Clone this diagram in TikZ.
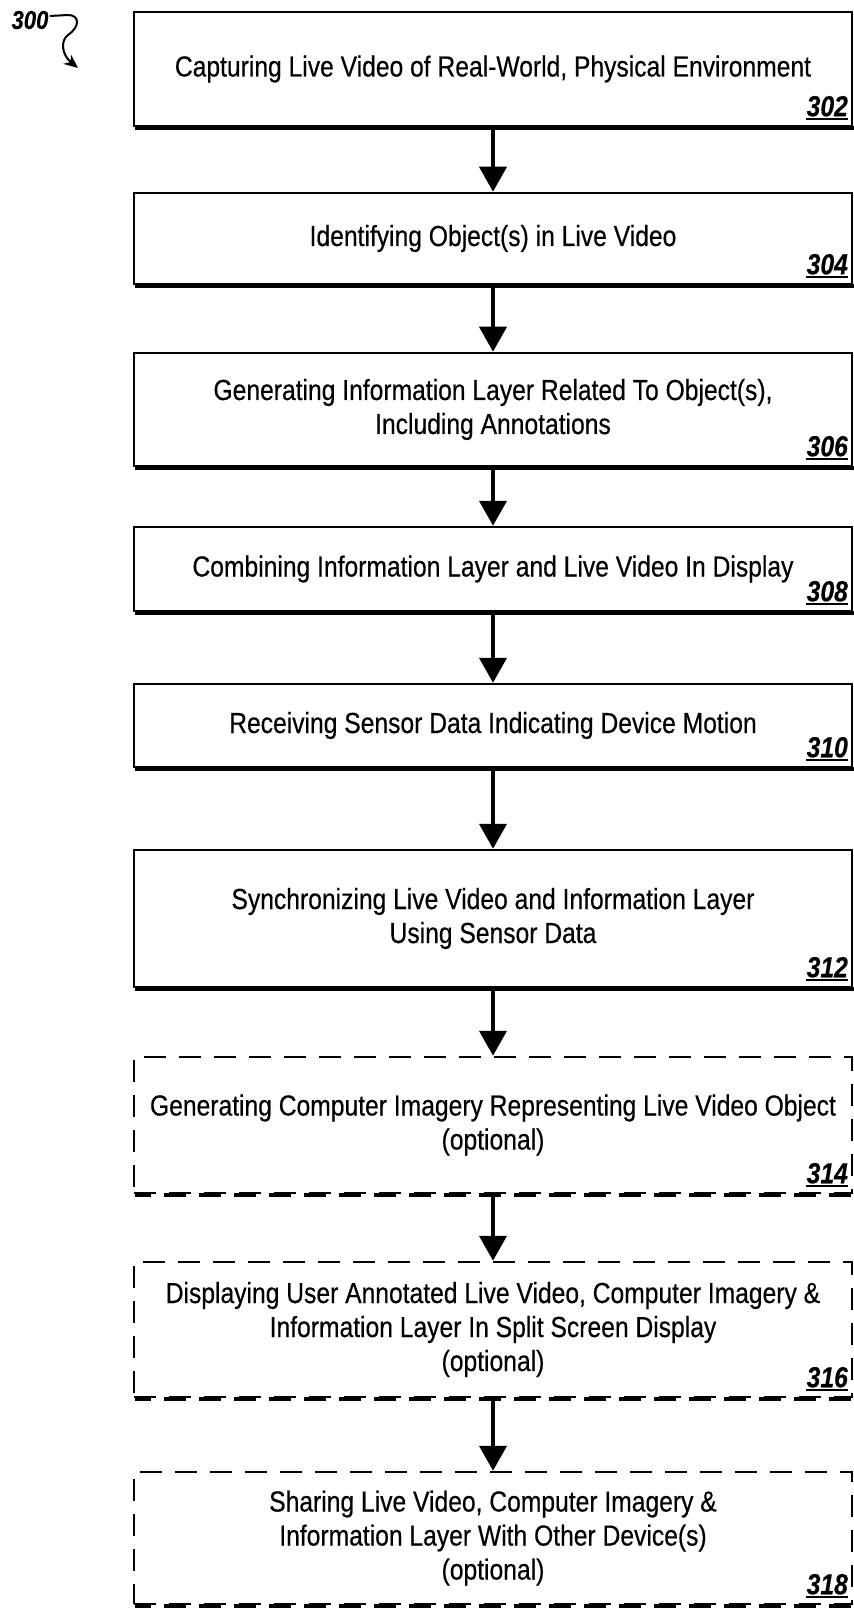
\documentclass[tikz,border=0pt]{standalone}
\usepackage{fontspec}
\setmainfont[FakeStretch=0.85,FakeBold=0.4]{Liberation Sans}
\usetikzlibrary{arrows.meta}
\newlength{\du}
\setlength{\du}{0.5pt}
\definecolor{dialinecolor}{rgb}{0.000000, 0.000000, 0.000000}

\begin{document}
\begin{tikzpicture}[x=\du,y=-\du,
  stepbox/.style={draw=dialinecolor, line width=2.5\du, minimum width=718\du,
    inner sep=0pt, align=center, font=\fontsize{14.5}{17}\selectfont},
  optbox/.style={stepbox, dash pattern=on 22\du off 13\du},
  refnum/.style={anchor=base east, inner sep=0pt,
    font=\fontsize{14.5}{17}\selectfont\bfseries\itshape},
  numline/.style={draw=dialinecolor, line width=2.2\du},
  shadowline/.style={draw=dialinecolor, line width=4\du},
  optshadow/.style={shadowline, dash pattern=on 22\du off 13\du, dash phase=6\du},
  flow/.style={draw=dialinecolor, line width=4\du, -{Triangle[width=13.5pt,length=12.5pt]}},
  squiggle/.style={draw=dialinecolor, line width=2\du, -{Stealth[width=6pt,length=7pt]}}]
\useasboundingbox (0,0) rectangle (854,1610);
% boxes
\node[stepbox, minimum height=114\du] (b302) at (493,69) {Capturing Live Video of Real-World, Physical Environment};
\node[stepbox, minimum height=91\du] (b304) at (493,238.5) {Identifying Object(s) in Live Video};
\node[stepbox, minimum height=113\du] (b306) at (493,409.5) {Generating Information Layer Related To Object(s),\\ Including Annotations};
\node[stepbox, minimum height=84\du] (b308) at (493,569) {Combining Information Layer and Live Video In Display};
\node[stepbox, minimum height=83\du] (b310) at (493,725.5) {Receiving Sensor Data Indicating Device Motion};
\node[stepbox, minimum height=137\du] (b312) at (493,918.5) {Synchronizing Live Video and Information Layer\\ Using Sensor Data};
\node[optbox, minimum height=136\du] (b314) at (493,1125) {Generating Computer Imagery Representing Live Video Object\\ (optional)};
\node[optbox, minimum height=135\du] (b316) at (493,1329.5) {Displaying User Annotated Live Video, Computer Imagery \&\\ Information Layer In Split Screen Display\\ (optional)};
\node[optbox, minimum height=132\du] (b318) at (493,1538) {Sharing Live Video, Computer Imagery \&\\ Information Layer With Other Device(s)\\ (optional)};
% shadows
\foreach \b in {302,304,...,312}
  \draw[shadowline] ([xshift=2\du,yshift=-0.8\du]b\b.south west) -- ([xshift=2\du,yshift=-0.8\du]b\b.south east);
\foreach \b in {314,316,318}
  \draw[optshadow] ([xshift=2\du,yshift=-0.8\du]b\b.south west) -- ([xshift=2\du,yshift=-0.8\du]b\b.south east);
% reference numbers
\foreach \n in {302,304,...,318} {
  \node[refnum] (n\n) at ([xshift=-5\du,yshift=11\du]b\n.south east) {\n};
  \draw[numline] ([yshift=-3\du]n\n.base west) -- ([yshift=-3\du]n\n.base east);
}
% arrows
\foreach \a/\b in {302/304,304/306,306/308,308/310,310/312,312/314,314/316,316/318}
  \draw[flow] (b\a) -- (b\b);
% figure label
\node[inner sep=0pt, font=\fontsize{13}{15}\selectfont\bfseries\itshape] (l300) at (30,20) {300};
\coordinate (t300) at (78,68);
\draw[squiggle] ([xshift=1\du,yshift=4\du]l300.east) -- (68,15) .. controls (80,15) and (80,27) .. (68,35) .. controls (60,41) and (62,55) .. (t300);
\end{tikzpicture}
\end{document}
